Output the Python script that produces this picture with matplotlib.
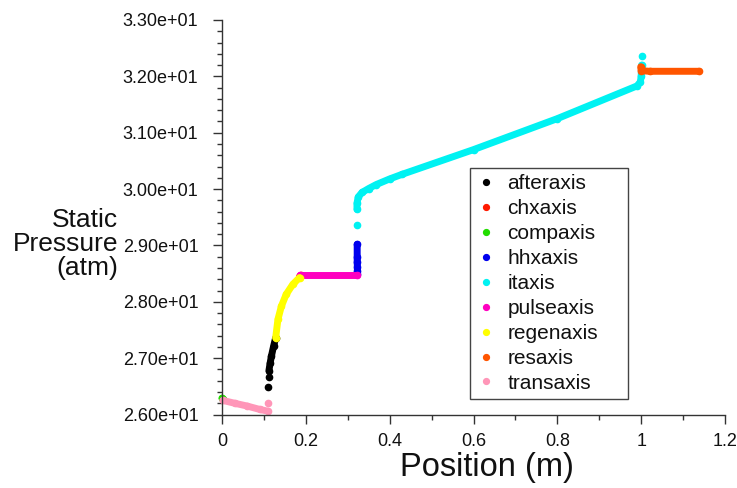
import numpy as np
import matplotlib
matplotlib.use("Agg")
import matplotlib.pyplot as plt
from matplotlib.lines import Line2D
from matplotlib.ticker import MultipleLocator, FormatStrFormatter, FuncFormatter

plt.rcParams['font.family'] = ['Liberation Sans', 'DejaVu Sans']

nan = np.nan
# ---- data (position m, static pressure atm) ----
series_names = ["afteraxis", "chxaxis", "compaxis", "hhxaxis", "itaxis",
                "pulseaxis", "regenaxis", "resaxis", "transaxis"]
series_colors = ["#000000", "#ff1a00", "#22dd00", "#0000ee", "#00f2f2",
                 "#ff00c0", "#ffff00", "#ff5500", "#ff96b8"]

after_x = [0.109, nan, 0.111, nan, 0.112, 0.115, 0.118, 0.123, 0.128]
after_y = [26.48, nan, 26.67, nan, 26.78, 26.92, 27.04, 27.21, 27.36]

chx_x = [0.185, 0.188]
chx_y = [28.45, 28.47]

comp_x = [0.0, 0.002]
comp_y = [26.29, 26.27]

hhx_x = [0.3225, 0.3225, 0.3225, 0.323, 0.323, 0.3225]
hhx_y = [29.02, 28.79, 28.70, 28.61, 28.54, 28.49]

it_x = [0.323, nan, 0.322, 0.322, 0.325, 0.334, 0.350, 0.368, 0.400, 0.429,
        0.600, 0.800, 0.990, 0.998, 1.000, 1.001, nan, 1.002]
it_y = [29.37, nan, 29.64, 29.75, 29.86, 29.94, 30.01, 30.08, 30.18, 30.26,
        30.70, 31.25, 31.83, 31.90, 32.00, 32.20, nan, 32.36]

pulse_x = [0.187, 0.322]
pulse_y = [28.48, 28.48]

regen_x = [0.128, 0.1335, 0.1416, 0.153, 0.169, 0.185]
regen_y = [27.36, 27.69, 27.92, 28.13, 28.31, 28.43]

res_x = [0.999, 1.000, 1.020, 1.138]
res_y = [32.17, 32.10, 32.09, 32.09]

trans_x = [0.002, 0.030, 0.060, 0.090, 0.109, nan, 0.109]
trans_y = [26.25, 26.20, 26.15, 26.09, 26.06, nan, 26.20]

series_x = [after_x, chx_x, comp_x, hhx_x, it_x, pulse_x, regen_x, res_x, trans_x]
series_y = [after_y, chx_y, comp_y, hhx_y, it_y, pulse_y, regen_y, res_y, trans_y]

x_ticks = [0, 0.2, 0.4, 0.6, 0.8, 1.0, 1.2]
y_ticks = [26, 27, 28, 29, 30, 31, 32, 33]

# ---- figure ----
fig = plt.figure(figsize=(7.37, 4.88), dpi=100)
ax = fig.add_axes([222/737, 1-414.5/488, 503/737, 394.5/488])

for name, c, xs, ys in zip(series_names, series_colors, series_x, series_y):
    ax.plot(xs, ys, '-', color=c, lw=5.0, solid_capstyle='round',
            marker='o', ms=4.5, mec=c, mfc=c, clip_on=False)

ax.set_xlim(0, 1.2)
ax.set_ylim(26, 33)
ax.set_xticks(x_ticks)
ax.set_yticks(y_ticks)
ax.xaxis.set_minor_locator(MultipleLocator(0.1))
ax.yaxis.set_minor_locator(MultipleLocator(0.2))
ax.yaxis.set_major_formatter(FormatStrFormatter('%.2e'))
ax.xaxis.set_major_formatter(FuncFormatter(lambda v, p: '%g' % v))

for s in ['top', 'right']:
    ax.spines[s].set_visible(False)
for s in ['left', 'bottom']:
    ax.spines[s].set_color('#333333')
    ax.spines[s].set_linewidth(1.0)

ax.tick_params(which='major', direction='out', length=6.5, width=1.0,
               color='#333333', labelsize=13, labelcolor='#111111')
ax.tick_params(axis='y', which='major', pad=10.5)
ax.tick_params(axis='x', which='major', pad=6.5)
ax.tick_params(which='minor', direction='out', length=3.6, width=1.0,
               color='#333333')

ax.set_xlabel("Position (m)", fontsize=23.5, color='#111111', va='center')
ax.xaxis.set_label_coords(0.527, -0.134)
ax.set_ylabel("Static\nPressure\n(atm)", fontsize=19, color='#111111',
              rotation=0, ha='right', va='center', multialignment='right',
              linespacing=1.0)
ax.yaxis.set_label_coords(-0.207, 0.432)

handles = [Line2D([], [], ls='none', marker='o', ms=4.2, color=c)
           for c in series_colors]
leg = fig.legend(handles, series_names, loc='upper left',
                 bbox_to_anchor=(470/737, 1-396/488, 158/737, (396-168)/488),
                 mode='expand', fontsize=15, frameon=True, fancybox=False,
                 borderpad=0.3, handlelength=0.9, handletextpad=0.6,
                 labelspacing=0.285, borderaxespad=0, framealpha=1.0)
leg.get_frame().set_edgecolor('#444444')
leg.get_frame().set_linewidth(1.0)
for t in leg.get_texts():
    t.set_color('#111111')

fig.savefig("out.png", dpi=100)
